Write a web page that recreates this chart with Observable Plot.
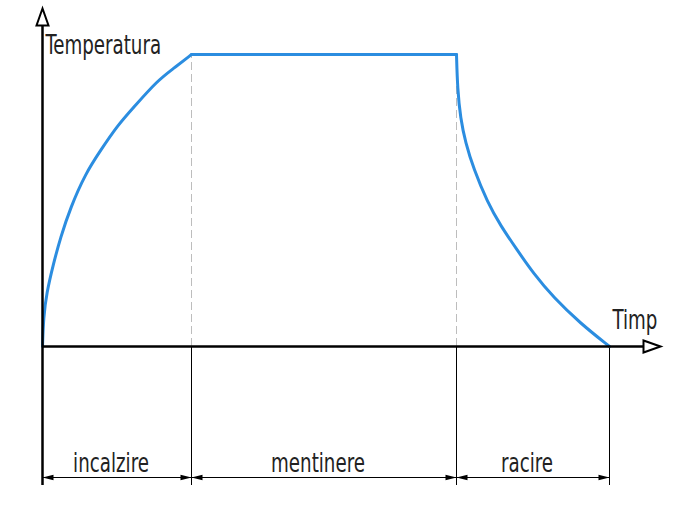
<!DOCTYPE html>
<html>
<head>
<meta charset="utf-8">
<script src="https://cdn.jsdelivr.net/npm/d3@7"></script>
<script src="https://cdn.jsdelivr.net/npm/@observablehq/plot@0.6"></script>
<style>
  html, body { margin: 0; padding: 0; background: #fff; }
</style>
</head>
<body>
<div id="chart"></div>
<script>
// ---- data (time in arbitrary units, temperature in arbitrary units) ----
const phaseNames  = ["incalzire", "mentinere", "racire"];
const phaseBounds = [0, 149, 414, 567];

const heatTime = [0, 1, 4, 11, 18, 28, 43, 58, 75, 91, 115, 131, 149];
const heatTemp = [0, 29, 53, 83, 109, 139, 173, 196, 221, 239, 266, 278, 292];

const holdTime = [149, 414];
const holdTemp = [292, 292];

const coolTime = [414, 415, 418, 423, 431, 445, 458, 475, 491, 511, 538, 567];
const coolTemp = [292, 258, 228, 204, 178, 144, 121, 96, 73, 49, 23, 0];

const axisLabels = {x: "Timp", y: "Temperatura"};
const xAxisEnd = 618;
const yAxisEnd = 338;
const dimLevel = -131;
const extLevel = -139;

// ---- build tables ----
const curve = [
  ...heatTime.map((t, i) => ({t, v: heatTemp[i], phase: "heat"})),
  ...holdTime.map((t, i) => ({t, v: holdTemp[i], phase: "hold"})),
  ...coolTime.map((t, i) => ({t, v: coolTemp[i], phase: "cool"}))
];
const phases = phaseNames.map((name, i) => ({
  name, start: phaseBounds[i], end: phaseBounds[i + 1],
  mid: (phaseBounds[i] + phaseBounds[i + 1]) / 2
}));
const plateau = holdTemp[0];

// custom symbols: hollow axis arrow & narrow dimension arrow (pointing +x, tip at origin)
const axisArrow = {draw(ctx) { ctx.moveTo(0, 0); ctx.lineTo(-17, -6); ctx.lineTo(-17, 6); ctx.closePath(); }};
const dimArrow  = {draw(ctx) { ctx.moveTo(0, 0); ctx.lineTo(-11, -2.8); ctx.lineTo(-11, 2.8); ctx.closePath(); }};

const font = "'Liberation Sans Narrow', 'DejaVu Sans Condensed', 'DejaVu Sans', sans-serif";

const chart = Plot.plot({
  width: 677,
  height: 513,
  marginLeft: 42,
  marginRight: 17,
  marginTop: 8,
  marginBottom: 7,
  x: {domain: [0, xAxisEnd], axis: null},
  y: {domain: [-160, yAxisEnd], axis: null},
  style: {fontFamily: font, background: "#fff"},
  marks: [
    // dashed guides at phase boundaries
    Plot.ruleX(phaseBounds.slice(1, -1), {y1: 0, y2: plateau, stroke: "#bdbdbd", strokeWidth: 1, strokeDasharray: "8,4"}),
    // extension lines below axis
    Plot.ruleX(phaseBounds, {y1: 0, y2: extLevel, stroke: "#000", strokeWidth: 1}),
    // dimension line
    Plot.ruleY([dimLevel], {x1: phaseBounds[0], x2: phaseBounds[phaseBounds.length - 1], stroke: "#000", strokeWidth: 1}),
    // dimension arrowheads
    Plot.dot(phases, {x: "start", y: () => dimLevel, symbol: dimArrow, rotate: 180, fill: "#000", stroke: "none", r: 4}),
    Plot.dot(phases, {x: "end", y: () => dimLevel, symbol: dimArrow, rotate: 0, fill: "#000", stroke: "none", r: 4}),
    // phase labels
    Plot.text(phases, {x: "mid", y: () => dimLevel + 14, text: "name", dx: -6, fontSize: 26, fontWeight: 300, fill: "#222", className: "narrow"}),
    // temperature curve
    Plot.line(curve, {x: "t", y: "v", z: "phase", curve: "basis", stroke: "#2b8de0", strokeWidth: 3, strokeLinejoin: "round", strokeLinecap: "round"}),
    // axes
    Plot.ruleY([0], {x1: 0, x2: xAxisEnd - 16, stroke: "#000", strokeWidth: 2.5}),
    Plot.ruleX([0], {y1: extLevel, y2: yAxisEnd - 16, stroke: "#000", strokeWidth: 2.5}),
    Plot.dot([xAxisEnd], {x: d => d, y: () => 0, symbol: axisArrow, rotate: 0, fill: "#fff", stroke: "#000", strokeWidth: 2, r: 4}),
    Plot.dot([yAxisEnd], {x: () => 0, y: d => d, symbol: axisArrow, rotate: -90, fill: "#fff", stroke: "#000", strokeWidth: 2, r: 4}),
    // axis labels
    Plot.text([axisLabels.y], {x: () => 3, y: () => 301, text: d => d, textAnchor: "start", fontSize: 26, fontWeight: 300, fill: "#222", className: "narrow"}),
    Plot.text([axisLabels.x], {x: () => 570, y: () => 26, text: d => d, textAnchor: "start", fontSize: 26, fontWeight: 300, fill: "#222", className: "narrow"})
  ]
});
document.getElementById("chart").append(chart);

// condense the label glyphs horizontally to imitate a narrow technical-drawing font
const squeeze = 0.78;
d3.select(chart).selectAll("g.narrow text").each(function () {
  const w = this.getComputedTextLength();
  this.setAttribute("textLength", (w * squeeze).toFixed(1));
  this.setAttribute("lengthAdjust", "spacingAndGlyphs");
});
</script>
</body>
</html>
